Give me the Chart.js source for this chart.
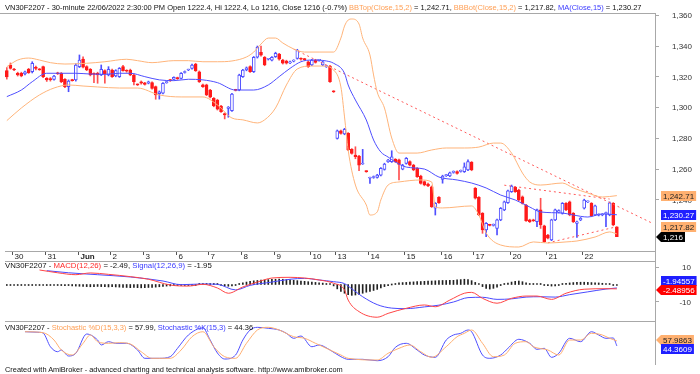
<!DOCTYPE html>
<html>
<head>
<meta charset="utf-8">
<script src="https://cdn.jsdelivr.net/npm/chart.js@4/dist/chart.umd.min.js"></script>
<style>
  body { margin: 0; background: #fff; width: 700px; height: 374px; overflow: hidden; position: relative;
         font-family: "Liberation Sans", Arial, sans-serif; }
  canvas { position: absolute; left: 0; }
  .ttl { position: absolute; left: 5px; font-size: 7.5px; line-height: 9px; white-space: nowrap; color: #111; z-index: 2; }
  .o { color: #ff9f55; }
  .b { color: #3a3aff; }
  .r { color: #ff2a2a; }
  #foot { font-size: 7.4px; }
</style>
</head>
<body>
<div class="ttl" style="top:3px">VN30F2207 - 30-minute 22/06/2022 2:30:00 PM Open 1222.4, Hi 1222.4, Lo 1216, Close 1216 (-0.7%) <span class="o">BBTop(Close,15,2)</span> = 1,242.71, <span class="o">BBBot(Close,15,2)</span> = 1,217.82, <span class="b">MA(Close,15)</span> = 1,230.27</div>
<div class="ttl" style="top:261px;font-size:7.8px">VN30F2207 - <span class="r">MACD(12,26)</span> = -2.49, <span class="b">Signal(12,26,9)</span> = -1.95</div>
<div class="ttl" style="top:323px">VN30F2207 - <span class="o">Stochastic %D(15,3,3)</span> = 57.99, <span class="b">Stochastic %K(15,3)</span> = 44.36</div>
<div class="ttl" id="foot" style="top:365px">Created with AmiBroker - advanced charting and technical analysis software. http://www.amibroker.com</div>

<canvas id="priceChart" width="700" height="262" style="top:0"></canvas>
<canvas id="macdChart" width="700" height="61" style="top:261px"></canvas>
<canvas id="stochChart" width="700" height="43" style="top:322px"></canvas>

<script>
// ---- data ----
const slotCount = 179;
const dayStarts = [2, 11, 20, 29, 38, 47, 56, 65, 74, 84, 91, 100, 110, 120, 129, 139, 149, 159];
const dayLabels = ['30', '31', 'Jun', '2', '3', '6', '7', '8', '9', '10', '13', '14', '15', '16', '17', '20', '21', '22'];
const priceTicks = [1240, 1260, 1280, 1300, 1320, 1340, 1360];
const macdTicks = [-10, 10];

const opens = [
  1324,1327.7,1325,1322.3,1322.3,1321.8,1324.9,1323.3,1326,1325,
  1326.6,1319,1318.8,1318.3,1322.5,1322.3,1318.3,1313.6,1317.9,1317.9,
  1326.6,1331.6,1326.6,1324.9,1322,1322.3,1321.2,1324,1321.2,1324.4,
  1320.5,1320.1,1326.6,1324,1324.4,1321.2,1315,1316.8,1316,1315.8,
  1316.2,1313.6,1309,1309.3,1316.2,1318,1318.3,1319.3,1319,1322.8,
  1324.4,1325.5,1328.3,1323.3,1314.7,1314.7,1311.4,1306,1304.9,1301,
  1296,1299.5,1298,1311.4,1311.4,1320.1,1324.4,1326.6,1323.3,1332.7,
  1336,1332.7,1331.4,1330.9,1333.1,1334.8,1330.9,1330.3,1329,1330.2,
  1332,1331.8,1331.5,1329.8,1327.7,1330.9,1330.7,1327.7,1326.6,1327,1310.5,
  1280,1284.9,1282.8,1283.2,1272.8,1269.1,1268.5,1263.3,1258.4,
  1254,1254.5,1254.6,1256.1,1259.8,1264.8,1264.8,1266.3,1266,1260,
  1263.7,1264.8,1262.6,1260.5,1255.5,1251.8,1250.3,1248.5,1234.5,1241.6,
  1253.3,1255.7,1255.5,1257.8,1258.3,1258.5,1258.3,1259.4,1264.4,
  1247.5,1241.6,1231.2,1220.4,1223.6,1223.4,1221.4,1226.9,1233.4,1238.1,
  1245.3,1248.1,1246.4,1242,1236.6,1226.9,1226.9,1225.7,1233.4,1223,
  1217.1,1213.9,1226.9,1232,1231.2,1237.7,1238.7,1231.2,1224.7,1226.9,
  1234.5,1238.7,1237.7,1230.1,1230,1230.1,1231,1230.1,1237.7,1222.4
];
const highs = [
  1326,1329,1325.5,1323,1323,1323.8,1325.5,1329.8,1327,1325.4,
  1327,1319.5,1319.5,1321,1323,1322.8,1318.8,1318,1318.4,1328.5,
  1334.2,1333,1327.2,1325.4,1322.6,1323,1327.7,1324.6,1326.6,1325,
  1324.6,1326,1327.5,1324.6,1325,1321.7,1315.4,1317.3,1316.4,1317.2,
  1316.7,1314,1310.8,1316.2,1317.3,1318.4,1320,1319.8,1322.8,1323.8,
  1325,1328.2,1328.8,1323.8,1315.2,1315.2,1311.9,1306.5,1305.4,1301.5,
  1296.5,1300.7,1309.3,1311.9,1321.7,1324.9,1326.4,1327.1,1333.2,1340,
  1340,1333.2,1332,1333.2,1336,1335.3,1331.4,1330.8,1330.3,1331.1,
  1337.9,1332.3,1332,1330.3,1331.4,1331.4,1331.4,1330.3,1327.4,1327.5,1311,
  1285.4,1285.4,1286.5,1283.7,1273.3,1274.5,1269,1272.8,1258.9,
  1254.8,1255.5,1256.6,1261,1263.8,1266.4,1271.9,1266.8,1266.5,1263.1,
  1267.5,1265.3,1263.1,1261,1256,1252.3,1250.8,1249,1238.2,1242.1,
  1256,1256.6,1258.1,1258.8,1258.8,1259.4,1264,1266,1264.9,
  1248,1242.1,1231.7,1225.2,1224.1,1224.3,1227.4,1235,1239.2,1246.4,
  1249.6,1248.6,1246.9,1242.5,1237.1,1227.4,1227.4,1233.9,1241,1223.5,
  1217.6,1227.4,1233.9,1233.5,1238.2,1238.2,1239.2,1231.7,1226.2,1228.5,
  1240.4,1239.3,1238.2,1236.5,1230.9,1231,1232,1238.6,1238.2,1222.4
];
const lows = [
  1318.5,1325,1324,1320.5,1320,1321.2,1322.2,1322.5,1324.5,1324.2,
  1319.5,1317,1317.2,1317.8,1321.5,1316.2,1313,1310.3,1317.2,1317.2,
  1326,1325.8,1324,1320.6,1316.2,1315.8,1320.8,1315.8,1320.6,1319.6,
  1320,1319.6,1323.6,1323,1320.7,1314.7,1314.3,1315.2,1314.6,1315.4,
  1312,1305.4,1305.5,1308.8,1315.8,1317,1317.9,1318.3,1318.6,1322.4,
  1324,1325,1323.5,1316.3,1313.1,1307.7,1306.2,1300.5,1298.4,1296.8,
  1292.6,1293.7,1297.5,1310.8,1310.9,1319.6,1323.9,1322.8,1322.8,1332.2,
  1333.5,1327.2,1330.9,1330.4,1332.6,1330.9,1328.3,1328.3,1328.5,1329.7,
  1331.5,1330.9,1330.7,1326.1,1327.2,1328.9,1330.2,1327.2,1326.1,1316.3,1309.8,
  1279.5,1282.7,1282.3,1271.9,1269.7,1266.7,1258.9,1263,1257.9,
  1250.7,1254,1254.1,1255.6,1259.3,1264.3,1264.3,1264.3,1253,1259.5,
  1263.2,1262.1,1258.9,1254.5,1250.2,1249.1,1248.5,1235,1230.1,1237.6,
  1250.8,1255.2,1255,1257.3,1256.7,1258,1257.8,1258.9,1258.9,
  1240.5,1229.6,1218.2,1216,1223,1222.9,1217.1,1226.4,1232.9,1237.6,
  1244.8,1244.8,1239.4,1237.2,1225.9,1225.2,1225.9,1222.5,1221.4,1212.3,
  1214.5,1213.4,1226.4,1231.5,1230.7,1232.9,1229.6,1225.2,1215.6,1226.4,
  1234,1238.2,1229,1229.6,1229.5,1229.6,1222.5,1229.6,1223.1,1216
];
const closes = [
  1320,1325.5,1324.4,1321.2,1320.6,1323.3,1322.7,1328.8,1325.5,1324.6,
  1320.1,1317.9,1318.2,1320.5,1322,1316.8,1313.6,1317.3,1317.5,1327.7,
  1330.9,1326.2,1324.4,1321.2,1321.6,1321.2,1324.9,1322,1324.9,1320.1,
  1324,1325.5,1324,1323.6,1321.2,1316.8,1314.7,1315.8,1315,1316.8,
  1312.5,1308.2,1310.3,1315.8,1316.8,1317.5,1319.6,1318.8,1322.3,1323.3,
  1324.6,1327.7,1324,1316.8,1313.6,1308.2,1306.7,1301,1298.9,1297.3,
  1295.2,1300.2,1308.8,1311.2,1321.2,1324.4,1325.9,1323.3,1332.7,1339.2,
  1334,1327.7,1331.6,1332.7,1335.3,1331.4,1328.8,1328.8,1329.8,1330.6,
  1337,1331.4,1331.2,1326.6,1330.9,1329.4,1330.9,1329.8,1326.9,1316.8,1310.3,
  1284.9,1283.2,1285.8,1272.4,1270.2,1268,1262.6,1263.5,1258.3,
  1254.3,1255,1256.1,1260.5,1263.3,1265.9,1268,1264.8,1263,1262.6,
  1267,1262.6,1259.4,1255,1250.7,1249.6,1249,1235.5,1237.7,1238.1,
  1255.5,1256.1,1257.6,1258.3,1257.2,1258.9,1261.5,1264.8,1259.4,
  1241,1230.1,1220.4,1224.7,1223.4,1223.8,1226.9,1234.5,1238.7,1245.9,
  1249,1245.3,1239.9,1237.7,1226.4,1225.7,1226.4,1233.4,1223.6,1212.8,
  1215,1226.9,1233.4,1233,1237.7,1233.4,1230.1,1225.7,1225.7,1228,
  1239.9,1238.8,1229.5,1236,1230.4,1230.5,1231.5,1238.1,1223.6,1216
];

// [bar index, value]
const bbTop = [[0,1326.6],[3,1330.9],[6,1332.2],[9,1330.9],[12,1329.2],[16,1328.3],[22,1328.8],[27,1329.8],[33,1331.4],[36,1330.5],[40,1329.2],[46,1330.5],[50,1330.5],[54,1329.8],[58,1329.8],[62,1330.3],[66,1332.9],[68,1336.1],[70,1341.3],[72,1345.2],[74,1345.2],[76,1342],[79,1338.1],[82,1336.1],[86,1336.1],[90,1336.1],[92,1345.2],[93,1353],[94,1356.9],[95,1357.6],[97,1354.3],[98,1345.2],[100,1334.2],[101,1321.2],[102,1310.1],[104,1299.7],[106,1280.2],[108,1270.4],[113,1270.4],[117,1272.4],[121,1273.7],[126,1273.7],[130,1274.3],[134,1276.9],[136,1276.9],[139,1270.4],[142,1257.4],[144,1251.6],[147,1249.6],[153,1250.9],[156,1247.7],[160,1244.4],[164,1241.8],[168,1242.71]];
const bbBot = [[0,1291.5],[4,1299.7],[9,1308.2],[13,1312.7],[17,1314.7],[21,1314],[25,1313.4],[31,1312.7],[36,1312.7],[42,1308.2],[48,1306.9],[54,1306.9],[58,1301.7],[62,1293.2],[65,1292],[69,1290],[71,1292],[74,1299.7],[77,1314.7],[80,1325.1],[84,1327],[87,1327],[90,1324.4],[92,1313.4],[93,1293.9],[94,1272.4],[96,1249.6],[99,1236.6],[100,1230.1],[102,1232.1],[103,1239.9],[105,1249.6],[108,1251.6],[114,1252.9],[117,1251.6],[118,1235.3],[120,1234.7],[128,1236],[130,1230.1],[132,1218.4],[136,1210.6],[141,1209.3],[145,1212.6],[149,1211.9],[154,1212.6],[157,1213.2],[162,1215.8],[166,1219.1],[168,1217.82]];
const ma15 = [[0,1307.1],[4,1311.4],[7,1316.8],[11,1322.3],[14,1322.3],[19,1322.3],[23,1321.8],[27,1321.6],[31,1322.3],[34,1322.3],[38,1320.1],[42,1318],[46,1317.5],[50,1318.4],[54,1318],[58,1316.2],[63,1311.4],[68,1311.4],[72,1314.7],[75,1320.1],[78,1325.5],[81,1329.8],[84,1330.9],[88,1330.3],[90,1328.8],[93,1322.3],[94,1314.7],[96,1304.9],[99,1291.9],[101,1278.9],[103,1271.1],[105,1267.8],[107,1264.6],[110,1261.3],[115,1260],[119,1254.8],[124,1252.9],[128,1250.9],[132,1247.7],[136,1243.1],[140,1239.9],[144,1235.3],[147,1232.1],[153,1231.4],[156,1230.1],[160,1228.8],[164,1230.8],[168,1230.27]];
const trendMain = [[79,1338],[178,1224.5]];
const trendHigh = [[137,1249.5],[166,1240.5]];
const trendLow = [[149,1212],[168,1222.5]];

const macdLine = [[9,8.3],[14,6.7],[19,5.6],[23,6.6],[28,5.8],[34,4.5],[39,3],[45,-0.3],[50,-0.9],[54,0.1],[58,-2],[61,-5],[65,-1.4],[69,1.4],[73,3.7],[78,4.1],[82,3.7],[86,2.6],[90,0.7],[93,-3.1],[94,-8.9],[97,-15.5],[102,-18.7],[105,-16.5],[110,-13.6],[115,-11.7],[118,-12.7],[122,-8.9],[126,-5],[128,-4.5],[131,-7.9],[135,-10.7],[139,-7.9],[143,-6.6],[146,-6.6],[150,-8.5],[154,-5],[159,-2.7],[165,-2.4],[168,-2.49]];
const signalLine = [[11,7.9],[17,6.7],[25,5.6],[34,4.3],[43,2],[48,-0.1],[54,0.3],[58,0.1],[63,-3.1],[67,-0.5],[73,1.4],[78,3],[82,3.5],[86,2.6],[90,1.6],[93,0.5],[95,-2.5],[98,-7],[102,-11.5],[106,-13.5],[110,-13.8],[115,-12.8],[119,-11.8],[123,-10],[127,-7.5],[131,-7.3],[135,-8.5],[139,-8.2],[143,-7.2],[147,-7],[151,-7.2],[155,-5.8],[160,-4.2],[165,-2.6],[168,-1.95]];
const macdHist = [
  -0.3,-0.2,-0.3,-0.3,-0.4,-0.3,-0.2,-0.3,-0.4,-0.4,
  -0.5,-0.6,-0.5,-0.4,-0.5,-0.6,-0.7,-0.6,-0.8,-0.9,
  -1.0,-1.1,-1.2,-1.3,-1.2,-1.1,-1.2,-1.3,-1.4,-1.3,-1.4,
  -1.5,-1.6,-1.7,-1.8,-1.7,-1.8,-1.9,-1.8,-1.7,-1.6,-1.5,-1.3,-1.1,-0.9,
  -0.8,-0.7,-0.6,-0.5,-0.4,-0.3,-0.2,-0.1,
  0.2,0.3,0.4,0.3,0.2,0.1,
  -0.4,-0.8,-1.0,-0.8,-0.3,
  0.5,1.0,1.4,1.8,2.1,2.3,2.5,2.6,
  2.8,2.9,3.0,3.1,3.0,2.8,2.6,2.4,2.2,2.0,
  1.8,1.6,1.4,1.2,1.0,0.8,0.5,0.2,
  -0.8,-2.5,-4.0,
  -5.0,-5.8,-6.2,-6.0,
  -5.6,-5.0,-4.4,-4.0,
  -3.4,-2.8,-2.0,
  -1.2,-0.6,0.0,
  0.5,0.9,1.1,
  1.2,1.4,1.5,1.6,1.7,1.8,1.9,
  2.0,2.1,2.2,2.3,2.3,2.4,
  2.4,2.6,2.8,3.0,2.8,2.2,1.2,0.2,
  -1.2,-2.2,-2.6,-2.2,-1.5,
  -0.6,0.2,0.8,
  1.4,1.8,2.0,1.6,1.0,
  0.5,0.3,0.2,0.1,-0.2,
  -0.6,-0.9,-0.8,-0.4,
  0.2,0.6,0.9,1.1,1.2,1.3,1.3,1.2,1.1,1.0,0.9,0.7,0.5,
  0.2,-0.2,-0.5
];

const stochK = [[5,83.2],[9,81.6],[10,79.7],[12,42],[14,28.3],[15,33],[17,16.5],[19,23.9],[22,76.9],[25,60.4],[26,46.7],[28,55.8],[30,51.4],[33,51.4],[36,33],[38,10.2],[42,10.2],[45,14.6],[47,37.6],[50,74.2],[54,93.4],[56,60.4],[58,24.7],[60,8.2],[63,19.2],[65,60.4],[67,87.9],[69,95.3],[72,92.6],[75,87.9],[77,78.8],[79,65.1],[81,71.4],[84,42],[86,46.7],[89,33],[92,14.6],[94,7.4],[98,7.4],[102,3.6],[105,14.6],[107,40.4],[110,51.4],[113,33],[115,19.2],[118,12.9],[121,60.4],[123,74.2],[125,78.8],[127,87.9],[128,83.2],[131,19.2],[133,10.2],[136,19.2],[138,37.6],[141,62.4],[144,51.4],[146,34.9],[148,37.6],[150,12.9],[152,23.9],[155,65.1],[158,55.8],[161,83.2],[163,74.2],[165,65.1],[167,66],[168,44.36]];
const stochD = [[5,83.2],[10,80.5],[13,60.4],[15,33],[18,19.2],[21,51.4],[23,74.2],[25,55.8],[28,51.4],[31,53],[34,49.5],[37,28.3],[40,10.2],[45,10.2],[48,33],[51,69.5],[54,83.2],[57,42],[60,14.6],[63,10.2],[66,51.4],[69,87.9],[72,95.3],[75,87.9],[79,69.5],[82,65.1],[85,51.4],[89,33],[92,19.2],[94,10.2],[102,5.5],[105,23.9],[108,37.6],[111,46.7],[114,28.3],[117,12.9],[121,42],[124,69.5],[126,78.8],[128,87.9],[131,51.4],[134,14.6],[137,19.2],[140,51.4],[143,55.8],[145,42],[149,33],[152,19.2],[155,60.4],[158,60.4],[161,78.8],[164,74.2],[166,65.1],[168,57.99]];

// ---- look ----
const FONT = '"Liberation Sans", Arial, sans-serif';
const ORANGE = '#ffb47a';
const BLUE = '#4f4fff';
const RED = '#ff1a1a';
const FRAME = '#a8a8a8';
const slots = Array.from({ length: slotCount }, (_, i) => i);
const pts = arr => arr.map(([x, y]) => ({ x, y }));
const isUp = opens.map((o, i) => closes[i] >= o);

function lineDs(data, color, extra) {
  return Object.assign({
    type: 'line', data: pts(data), borderColor: color, borderWidth: 1,
    pointRadius: 0, cubicInterpolationMode: 'monotone', fill: false, order: 0,
  }, extra || {});
}

// tick labels are drawn by the axisLabels plugin (Chart.js pads vertical axes by ticks.padding)
function yAxis(min, max, ticks, marks) {
  return {
    position: 'right', min, max,
    afterFit: s => { s.width = 45; },
    afterBuildTicks: s => { s.ticks = ticks.map(v => ({ value: v })); },
    ticks: { display: false },
    grid: { drawOnChartArea: false, drawTicks: marks, tickLength: 4, color: FRAME },
    border: { color: FRAME },
  };
}

const xAxis = { type: 'category', labels: slots, offset: true, display: false };

function axisLabels(values, fmt, rightX) {
  return {
    id: 'axisLabels',
    afterDraw(chart) {
      const { ctx, scales: { y } } = chart;
      ctx.save();
      ctx.font = '8px ' + FONT; ctx.fillStyle = '#333';
      ctx.textAlign = 'right'; ctx.textBaseline = 'middle';
      values.forEach(v => ctx.fillText(fmt(v), rightX, y.getPixelForValue(v) + 0.5));
      ctx.restore();
    }
  };
}

function badge(ctx, y, text, bg, fg, arrow) {
  ctx.font = '8px ' + FONT;
  const w = ctx.measureText(text).width + 4;
  const x0 = 661;
  ctx.fillStyle = bg;
  ctx.beginPath();
  if (arrow) { ctx.moveTo(656, y); ctx.lineTo(x0, y - 5); } else { ctx.moveTo(x0, y - 5); }
  ctx.lineTo(x0 + w, y - 5); ctx.lineTo(x0 + w, y + 5); ctx.lineTo(x0, y + 5);
  ctx.closePath(); ctx.fill();
  ctx.fillStyle = fg; ctx.textBaseline = 'middle'; ctx.textAlign = 'left';
  ctx.fillText(text, x0 + 2, y + 0.5);
}

function badgePlugin(list) {
  return {
    id: 'badges',
    afterDraw(chart) {
      const { ctx, scales: { y } } = chart;
      ctx.save();
      list.forEach(b => badge(ctx, Math.round(y.getPixelForValue(b.value) + b.dy), b.text, b.bg, b.fg, b.arrow));
      ctx.restore();
    }
  };
}

const frameAndDates = {
  id: 'frameAndDates',
  afterDraw(chart) {
    const { ctx, chartArea: a, scales: { x } } = chart;
    const half = (x.getPixelForValue(1) - x.getPixelForValue(0)) / 2;
    ctx.save();
    ctx.strokeStyle = FRAME; ctx.lineWidth = 1;
    ctx.beginPath();
    ctx.moveTo(0, a.top + 0.5); ctx.lineTo(a.right, a.top + 0.5);
    ctx.moveTo(5, a.bottom + 0.5); ctx.lineTo(a.right, a.bottom + 0.5);
    ctx.moveTo(5, a.bottom + 10.5); ctx.lineTo(a.right, a.bottom + 10.5);
    ctx.moveTo(a.right + 0.5, a.top); ctx.lineTo(a.right + 0.5, chart.height);
    ctx.stroke();
    ctx.strokeStyle = '#555';
    ctx.fillStyle = '#222'; ctx.textBaseline = 'middle'; ctx.textAlign = 'left';
    dayStarts.forEach((i, k) => {
      const px = Math.round(x.getPixelForValue(i) - half) + 0.5;
      ctx.beginPath(); ctx.moveTo(px, a.bottom + 1); ctx.lineTo(px, a.bottom + 4); ctx.stroke();
      ctx.font = (dayLabels[k] === 'Jun' ? 'bold ' : '') + '8px ' + FONT;
      ctx.fillText(dayLabels[k], px + 2, a.bottom + 5.5);
    });
    ctx.restore();
  }
};

function paneFrame(bottomLine) {
  return {
    id: 'paneFrame',
    afterDraw(chart) {
      const { ctx, chartArea: a } = chart;
      ctx.save();
      ctx.strokeStyle = FRAME; ctx.lineWidth = 1;
      ctx.beginPath();
      ctx.moveTo(a.right + 0.5, 0); ctx.lineTo(a.right + 0.5, chart.height);
      if (bottomLine) { ctx.moveTo(5, chart.height - 0.5); ctx.lineTo(a.right, chart.height - 0.5); }
      ctx.stroke();
      ctx.restore();
    }
  };
}

const common = {
  responsive: false, animation: false, events: [],
  plugins: { legend: { display: false }, tooltip: { enabled: false } },
};

// ---- price pane ----
new Chart(document.getElementById('priceChart'), {
  type: 'bar',
  data: {
    labels: slots,
    datasets: [
      lineDs(bbTop, ORANGE),
      lineDs(bbBot, ORANGE),
      lineDs(ma15, BLUE),
      lineDs(trendMain, '#ff5a5a', { borderDash: [2, 3], cubicInterpolationMode: 'default' }),
      lineDs(trendHigh, '#ff5a5a', { borderDash: [2, 3], cubicInterpolationMode: 'default' }),
      lineDs(trendLow, '#ff5a5a', { borderDash: [2, 3], cubicInterpolationMode: 'default' }),
      {
        label: 'wick', data: lows.map((l, i) => [l, highs[i]]),
        backgroundColor: isUp.map(u => u ? BLUE : '#ff5050'),
        barThickness: 1, grouped: false, order: 3,
      },
      {
        label: 'body', data: opens.map((o, i) => [o, closes[i]]),
        backgroundColor: isUp.map(u => u ? '#ffffff' : RED),
        borderColor: isUp.map(u => u ? BLUE : RED),
        borderWidth: 1, borderSkipped: false, barThickness: 3, minBarLength: 1,
        grouped: false, order: 2,
      },
    ],
  },
  options: Object.assign({}, common, {
    layout: { padding: { left: 5, top: 13, bottom: 11, right: 0 } },
    scales: { x: xAxis, y: yAxis(1206.7, 1361.5, priceTicks, true) },
  }),
  plugins: [frameAndDates, axisLabels(priceTicks, v => v.toLocaleString('en-US'), 692), badgePlugin([
    { value: 1242.71, dy: 0, text: '1,242.71', bg: '#ffb070', fg: '#222', arrow: false },
    { value: 1230.27, dy: 0, text: '1,230.27', bg: '#1f1fff', fg: '#fff', arrow: false },
    { value: 1217.82, dy: -7, text: '1,217.82', bg: '#ffb070', fg: '#222', arrow: false },
    { value: 1216, dy: 0, text: '1,216', bg: '#000', fg: '#fff', arrow: true },
  ])],
});

// ---- MACD pane ----
new Chart(document.getElementById('macdChart'), {
  type: 'bar',
  data: {
    labels: slots,
    datasets: [
      lineDs(macdLine, '#ff4545'),
      lineDs(signalLine, '#4a4aff'),
      { label: 'hist', data: macdHist, backgroundColor: '#222', barThickness: 1, minBarLength: 1, order: 2 },
    ],
  },
  options: Object.assign({}, common, {
    layout: { padding: { left: 5, top: 0, bottom: 0, right: 0 } },
    scales: { x: xAxis, y: yAxis(-21.43, 13.43, macdTicks, true) },
  }),
  plugins: [paneFrame(true), axisLabels(macdTicks, v => String(v), 691), badgePlugin([
    { value: -1.94557, dy: -7, text: '-1.94557', bg: '#1f1fff', fg: '#fff', arrow: false },
    { value: -2.48956, dy: 1, text: '-2.48956', bg: '#ff0000', fg: '#fff', arrow: true },
  ])],
});

// ---- Stochastic pane ----
new Chart(document.getElementById('stochChart'), {
  type: 'line',
  data: {
    labels: slots,
    datasets: [
      lineDs(stochD, '#ffae70'),
      lineDs(stochK, '#4f4fff'),
    ],
  },
  options: Object.assign({}, common, {
    layout: { padding: { left: 5, top: 0, bottom: 0, right: 0 } },
    scales: { x: xAxis, y: yAxis(-8.2, 109.9, [], false) },
  }),
  plugins: [paneFrame(false), badgePlugin([
    { value: 57.9863, dy: -1, text: '57.9863', bg: '#ffb070', fg: '#222', arrow: true },
    { value: 44.3609, dy: 3, text: '44.3609', bg: '#1f1fff', fg: '#fff', arrow: false },
  ])],
});
</script>
</body>
</html>
